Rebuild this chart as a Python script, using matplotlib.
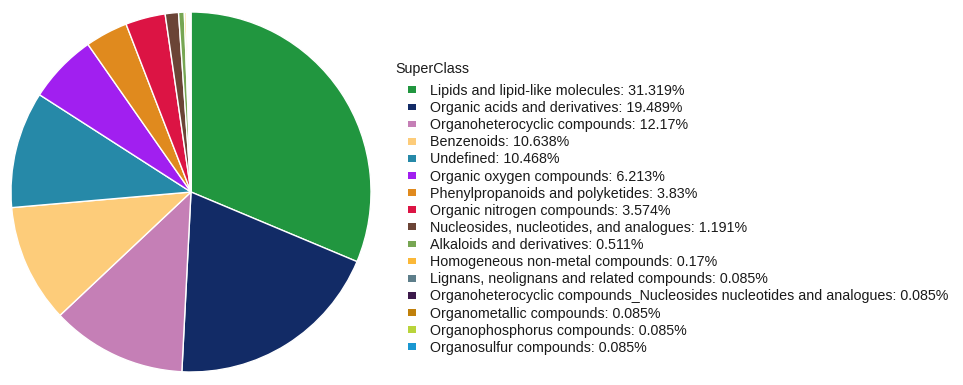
import matplotlib
matplotlib.use("Agg")
import matplotlib.pyplot as plt
from matplotlib.patches import Patch

plt.rcParams['font.family'] = ['Liberation Sans', 'DejaVu Sans']

labels = ["Lipids and lipid-like molecules", "Organic acids and derivatives",
          "Organoheterocyclic compounds", "Benzenoids", "Undefined",
          "Organic oxygen compounds", "Phenylpropanoids and polyketides",
          "Organic nitrogen compounds", "Nucleosides, nucleotides, and analogues",
          "Alkaloids and derivatives", "Homogeneous non-metal compounds",
          "Lignans, neolignans and related compounds",
          "Organoheterocyclic compounds_Nucleosides nucleotides and analogues",
          "Organometallic compounds", "Organophosphorus compounds",
          "Organosulfur compounds"]
pct = ["31.319", "19.489", "12.17", "10.638", "10.468", "6.213", "3.83", "3.574",
       "1.191", "0.511", "0.17", "0.085", "0.085", "0.085", "0.085", "0.085"]
colors = ["#21963f", "#122b66", "#c57fb6", "#fdcc7a", "#2689a8", "#a11ff0",
          "#e08a1e", "#dc1444", "#6b4436", "#77a653", "#fbb838", "#5d7e8a",
          "#3c1a4b", "#c0800b", "#b9d43b", "#1a97d1"]

values = [float(p) for p in pct]

fig = plt.figure(figsize=(9.63, 3.85), dpi=100)
ax = fig.add_axes([11 / 963, 13 / 385, 360 / 963, 360 / 385])
ax.pie(values, colors=colors, startangle=90, counterclock=False, radius=1,
       wedgeprops=dict(edgecolor="white", linewidth=1))
ax.set_xlim(-1, 1)
ax.set_ylim(-1, 1)
ax.set_aspect("equal")

fs = 10.3
fig.text(395 / 963, 1 - 73 / 385, "SuperClass", fontsize=fs, color="#1a1a1a",
         va="baseline")

handles = [Patch(facecolor=c, edgecolor="none") for c in colors]
texts = [f"{l}: {p}%" for l, p in zip(labels, pct)]
leg = fig.legend(handles, texts, loc="upper left",
                 bbox_to_anchor=(408 / 963, 1 - 84 / 385), frameon=False,
                 fontsize=fs, handlelength=0.56, handleheight=0.35,
                 handletextpad=1.0, labelspacing=0.218, borderpad=0,
                 borderaxespad=0)
for t in leg.get_texts():
    t.set_color("#1a1a1a")

fig.savefig("out.png", dpi=100)
